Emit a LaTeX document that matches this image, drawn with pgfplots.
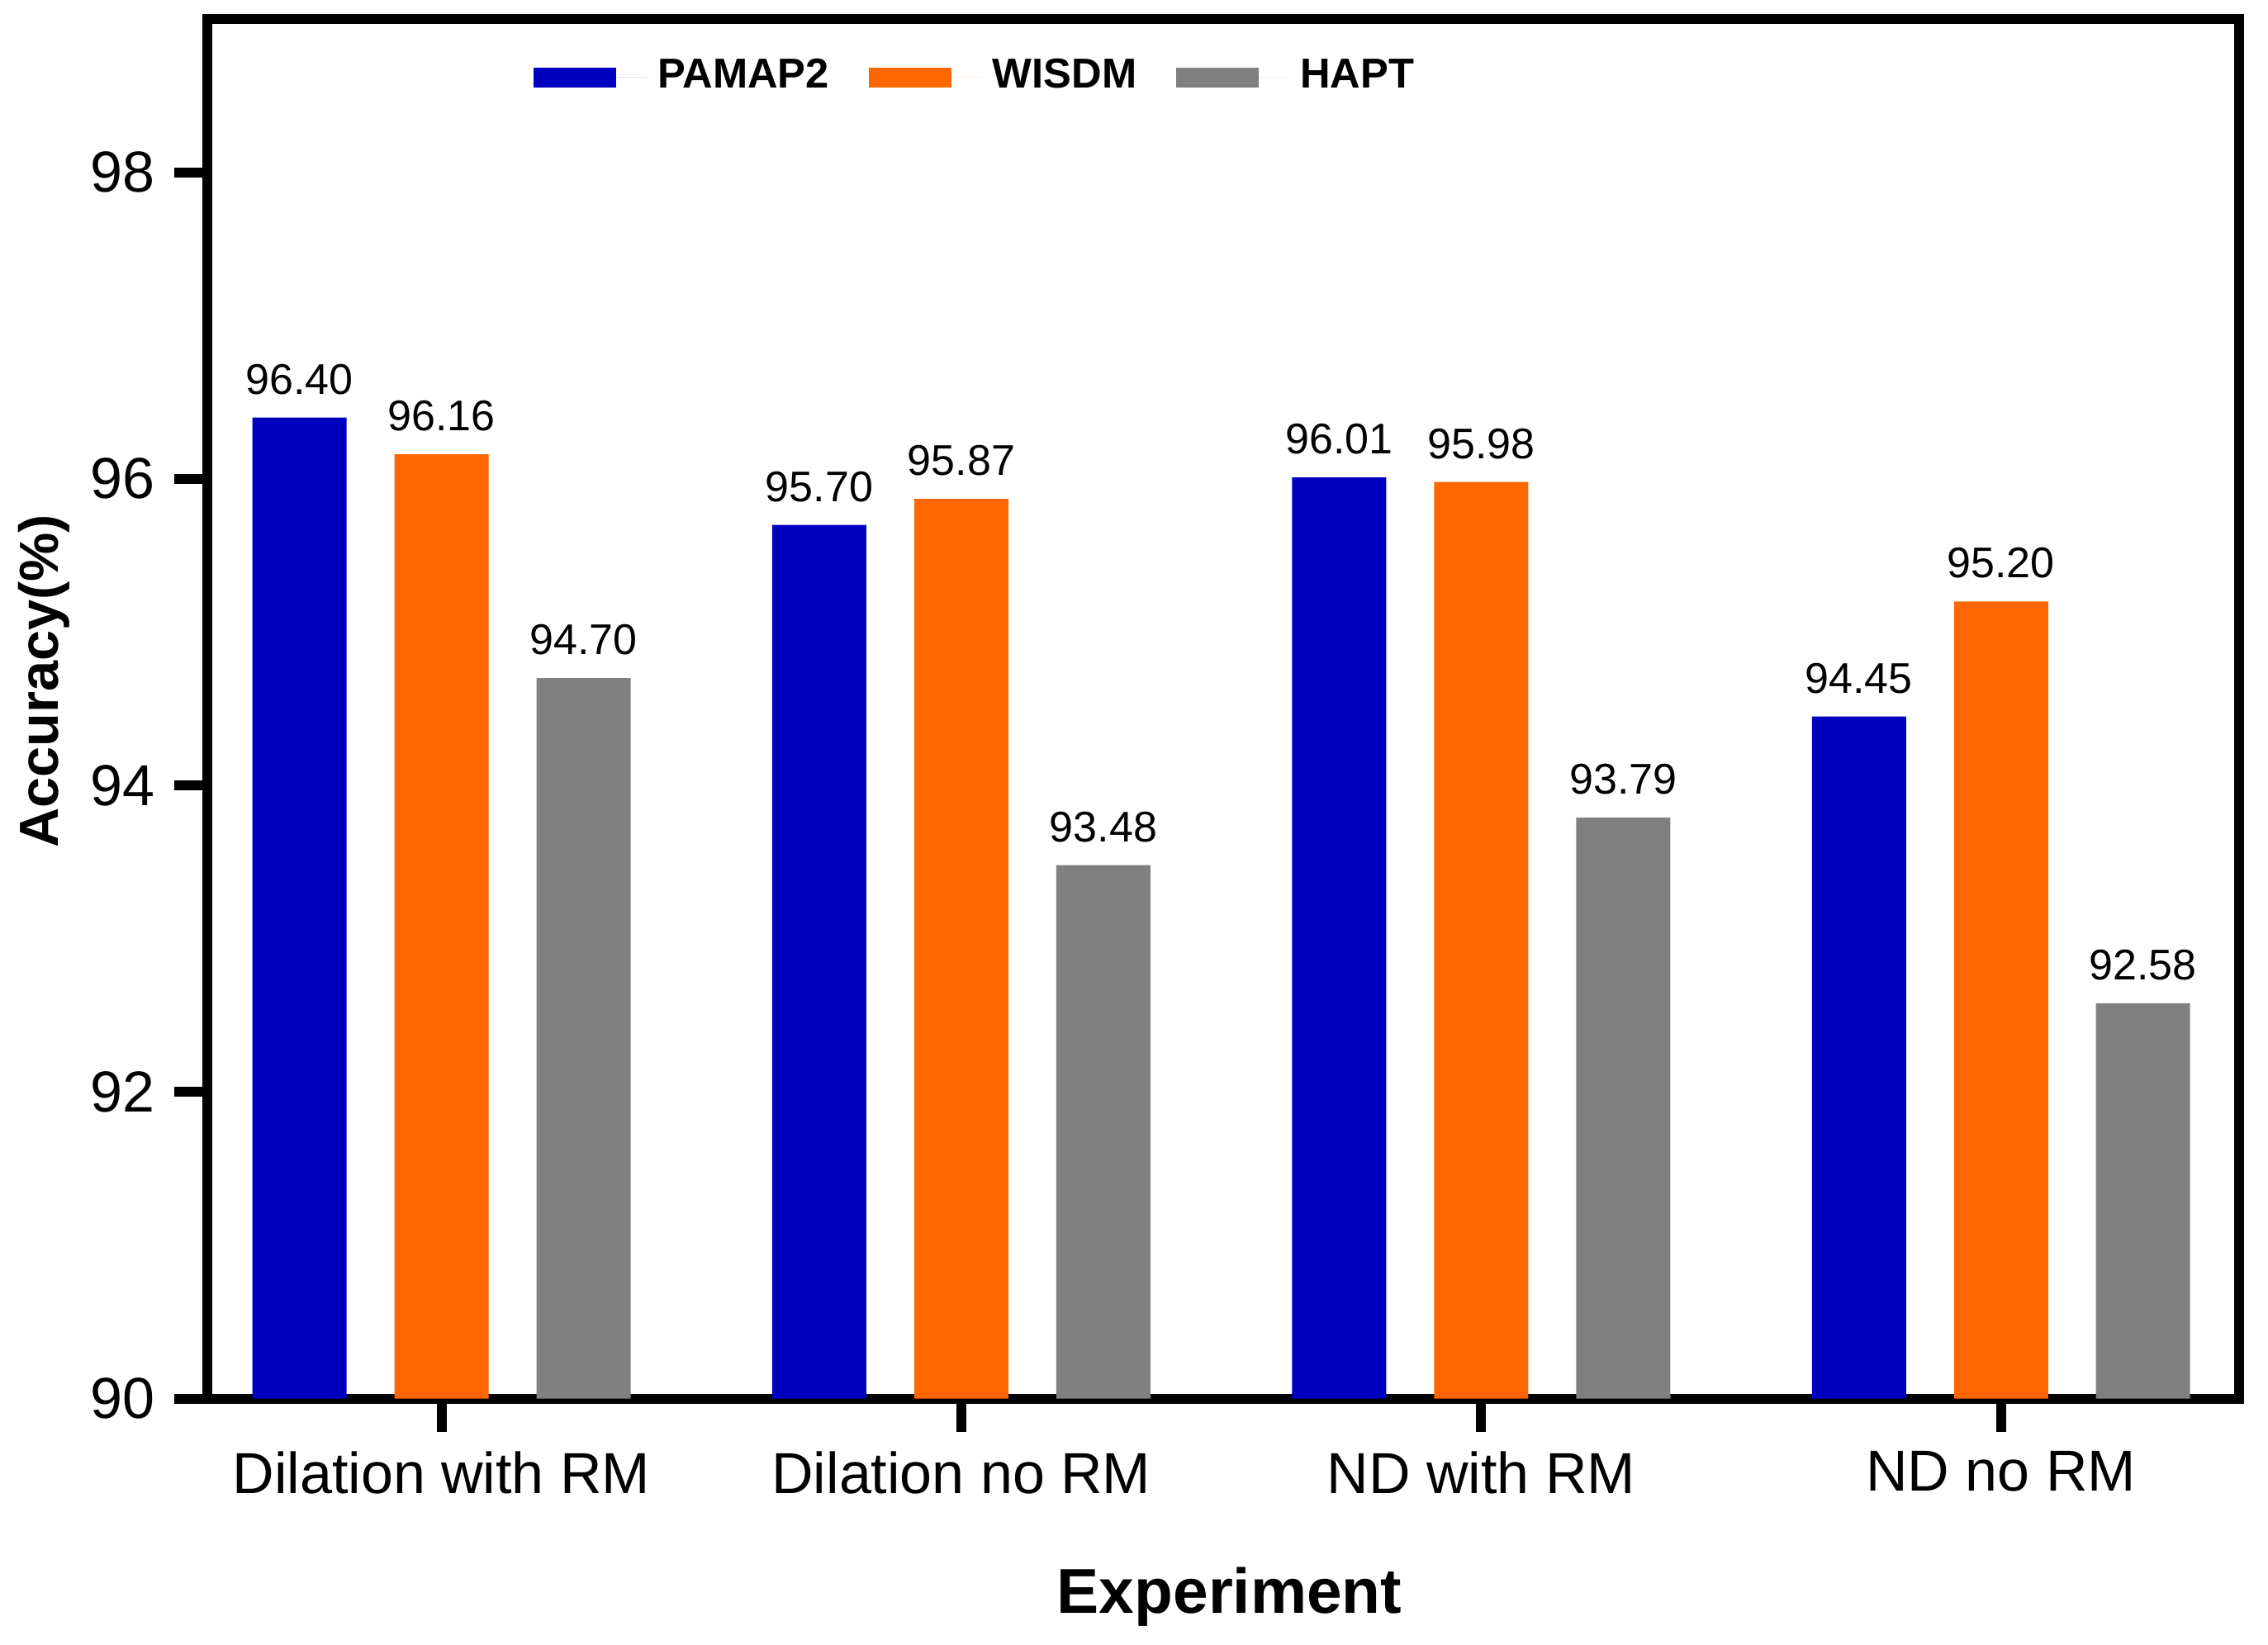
\documentclass[border=0pt]{standalone}
\usepackage{fontspec}
\setmainfont{Liberation Sans}
\usepackage{pgfplots}
\pgfplotsset{compat=1.18}
\definecolor{pamap}{HTML}{0000C0}
\definecolor{wisdm}{HTML}{FF6600}
\definecolor{hapt}{HTML}{808080}

\begin{document}
\begin{tikzpicture}
\begin{axis}[
  scale only axis,
  width=369pt, height=250.65pt,
  ybar=8.7pt, bar width=17.1pt,
  xmin=-0.45, xmax=3.458,
  ymin=90, ymax=99,
  xtick={0,1,2,3},
  xticklabels={Dilation with RM, Dilation no RM, ND with RM, ND no RM},
  ytick={90,92,94,96,98},
  xtick pos=bottom, ytick pos=left,
  tick align=outside,
  major tick length=6pt,
  every tick/.style={black, line width=1.8pt},
  axis line style={line width=1.8pt},
  /pgf/number format/assume math mode=true,
  x tick label style={font=\fontsize{10.5}{12}\selectfont},
  y tick label style={font=\fontsize{10.5}{12}\selectfont},
  xlabel={Experiment},
  ylabel={Accuracy(\%)},
  xlabel style={font=\bfseries\fontsize{11.5}{13}\selectfont, at={(axis description cs:0.503,-0.1436)}, anchor=center},
  ylabel style={font=\bfseries\fontsize{10}{12}\selectfont, at={(axis description cs:-0.0805,0.52)}, anchor=center},
  nodes near coords={\pgfmathprintnumber[fixed,fixed zerofill,precision=2]{\pgfplotspointmeta}},
  nodes near coords style={font=\fontsize{7.8}{9}\selectfont, anchor=south, inner sep=0pt, yshift=4pt},
  legend columns=3,
  legend image code/.code={\fill[#1] (0pt,-1.8pt) rectangle (15pt,1.8pt); \path (0pt,0pt) -- (20.5pt,0pt);},
  legend style={at={(axis description cs:0.152,0.9575)}, anchor=west, draw=none, fill=none,
    font=\bfseries\fontsize{7.6}{9}\selectfont,
    /tikz/every even column/.append style={column sep=5.2pt}},
]
\addplot[fill=pamap, draw=none] coordinates {(0,96.40) (1,95.70) (2,96.01) (3,94.45)};
\addplot[fill=wisdm, draw=none] coordinates {(0,96.16) (1,95.87) (2,95.98) (3,95.20)};
\addplot[fill=hapt, draw=none] coordinates {(0,94.70) (1,93.48) (2,93.79) (3,92.58)};
\legend{PAMAP2, WISDM, HAPT}
\end{axis}
\path ([shift={(-37.65pt,-43.8pt)}]current axis.south west) rectangle ([shift={(5.25pt,3.45pt)}]current axis.north east);
\end{tikzpicture}
\end{document}
